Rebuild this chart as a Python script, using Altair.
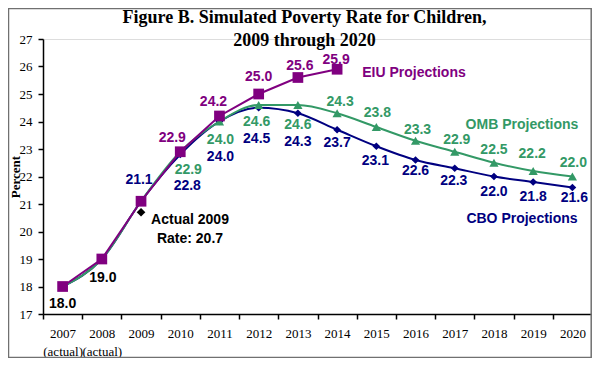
import altair as alt
import pandas as pd

# ---- data ----
years = [str(y) for y in range(2007, 2021)]
cbo = [18.0, 19.0, 21.1, 22.8, 24.0, 24.5, 24.3, 23.7, 23.1, 22.6, 22.3, 22.0, 21.8, 21.6]
omb = [18.0, 19.0, 21.1, 22.9, 24.0, 24.6, 24.6, 24.3, 23.8, 23.3, 22.9, 22.5, 22.2, 22.0]
eiu_years = years[:8]
eiu = [18.0, 19.0, 21.1, 22.9, 24.2, 25.0, 25.6, 25.9]
actual_year = ["2009"]
actual_value = [20.7]
y_ticks = list(range(17, 28))

# ---- styling / layout (kept apart from the data) ----
PURPLE = "#800080"
GREEN = "#339966"
NAVY = "#000080"
SERIF = "Liberation Serif"
SANS = "Liberation Sans"

# label offsets in pixels (dx, dy) per year; None = no label
eiu_off = [None, None, None, (-8, -14), (-6, -14), (0, -17), (2, -12), (-1, -9)]
omb_off = [None, None, None, (8, 18), (1, 18), (-2, 17), (0, 20), (3, -11), (1, -14),
           (2, -11), (2, -12), (0, -13), (-1, -17), (1, -14)]
cbo_off = [(0, 17), (1, 19), (-2, -21), (7, 31), (1, 35), (-2, 31), (0, 29), (0, 13),
           (-1, 15), (0, 11), (-1, 13), (0, 15), (0, 15), (2, 10)]

x_enc = alt.X(
    "year:N",
    scale=alt.Scale(domain=years, type="band", paddingInner=0, paddingOuter=0),
    axis=alt.Axis(
        title=None, labelAngle=0, tickBand="extent", grid=False,
        labelFont=SERIF, labelFontSize=13, labelColor="black", labelPadding=8,
        labelLineHeight=18,
        labelExpr="(datum.value == '2007' || datum.value == '2008') ? [datum.value, '(actual)'] : datum.value",
        tickSize=5, tickColor="black", tickWidth=1.5, domainColor="black", domainWidth=1.5,
    ),
)
y_enc = alt.Y(
    "value:Q",
    scale=alt.Scale(domain=[17, 27], nice=False, zero=False),
    axis=alt.Axis(
        values=y_ticks, format="d", grid=False,
        title="Percent", titleFont=SERIF, titleFontSize=13, titleFontWeight="bold",
        titleColor="black", titleAngle=270, titleAlign="center", titleBaseline="middle",
        titleX=-28, titleY=137.5,
        labelFont=SERIF, labelFontSize=13, labelColor="black", labelPadding=6,
        tickSize=5, tickColor="black", tickWidth=1.5, domainColor="black", domainWidth=1.5,
    ),
)


def series_df(ys, vals):
    return pd.DataFrame({"year": ys, "value": vals})


cbo_df = series_df(years, cbo)
omb_df = series_df(years, omb)
eiu_df = series_df(eiu_years, eiu)
act_df = series_df(actual_year, actual_value)

layers = []

# frame around the whole figure
frame = alt.Chart(pd.DataFrame({"k": [0]})).mark_rect(
    filled=False, stroke="#707070", strokeWidth=1.5
).encode(x=alt.value(-34.5), x2=alt.value(548.2), y=alt.value(-30.5), y2=alt.value(318.5))
layers.append(frame)

# lines and markers
layers.append(alt.Chart(cbo_df).mark_line(color=NAVY, strokeWidth=2, interpolate="monotone").encode(x=x_enc, y=y_enc))
layers.append(alt.Chart(cbo_df).mark_point(shape="diamond", filled=True, size=60, color=NAVY, opacity=1).encode(x=x_enc, y=y_enc))
layers.append(alt.Chart(omb_df).mark_line(color=GREEN, strokeWidth=2, interpolate="monotone").encode(x=x_enc, y=y_enc))
layers.append(alt.Chart(omb_df).mark_point(shape="triangle-up", filled=True, size=85, color=GREEN, opacity=1).encode(x=x_enc, y=y_enc))
layers.append(alt.Chart(eiu_df).mark_line(color=PURPLE, strokeWidth=2).encode(x=x_enc, y=y_enc))
layers.append(alt.Chart(eiu_df).mark_point(shape="square", filled=True, size=115, color=PURPLE, opacity=1).encode(x=x_enc, y=y_enc))
layers.append(alt.Chart(act_df).mark_point(shape="diamond", filled=True, size=75, color="black", opacity=1).encode(x=x_enc, y=y_enc))


# value labels
def add_labels(ys, vals, offs, color):
    for yr, v, off in zip(ys, vals, offs):
        if off is None:
            continue
        c = "black" if yr in ("2007", "2008") else color
        d = pd.DataFrame({"year": [yr], "value": [v], "label": [f"{v:.1f}"]})
        layers.append(
            alt.Chart(d).mark_text(
                font=SANS, fontSize=14, fontWeight="bold", color=c,
                align="center", baseline="middle", dx=off[0], dy=off[1],
            ).encode(x=x_enc, y=y_enc, text="label:N")
        )


add_labels(eiu_years, eiu, eiu_off, PURPLE)
add_labels(years, omb, omb_off, GREEN)
add_labels(years, cbo, cbo_off, NAVY)

# series annotations
ann = [
    ("EIU Projections", PURPLE, 371, 34),
    ("OMB Projections", GREEN, 479, 86),
    ("CBO Projections", NAVY, 479, 180),
]
for txt, col, px, py in ann:
    layers.append(
        alt.Chart(pd.DataFrame({"t": [txt]})).mark_text(
            font=SANS, fontSize=14, fontWeight="bold", color=col, align="center", baseline="middle"
        ).encode(text="t:N", x=alt.value(px), y=alt.value(py))
    )

act_lines = ["Actual 2009", "Rate: 20.7"]
layers.append(
    alt.Chart(pd.DataFrame({"t": [act_lines]})).mark_text(
        font=SANS, fontSize=14, fontWeight="bold", color="black", align="center",
        baseline="middle", lineHeight=19
    ).encode(text="t", x=alt.value(147), y=alt.value(181))
)

chart = alt.layer(*layers).properties(
    width=549,
    height=275,
    padding={"left": 35, "top": 31, "right": 0, "bottom": 44},
    autosize=alt.AutoSizeParams(type="none"),
    title=alt.Title(
        ["Figure B. Simulated Poverty Rate for Children,", "2009 through 2020"],
        font=SERIF, fontSize=18, fontWeight="bold", color="black",
        anchor="middle", dx=-13, lineHeight=23, offset=-42,
    ),
).configure_view(stroke=None).configure(background="white")

chart.save("out.html", embed_options={"renderer": "svg", "actions": False})
